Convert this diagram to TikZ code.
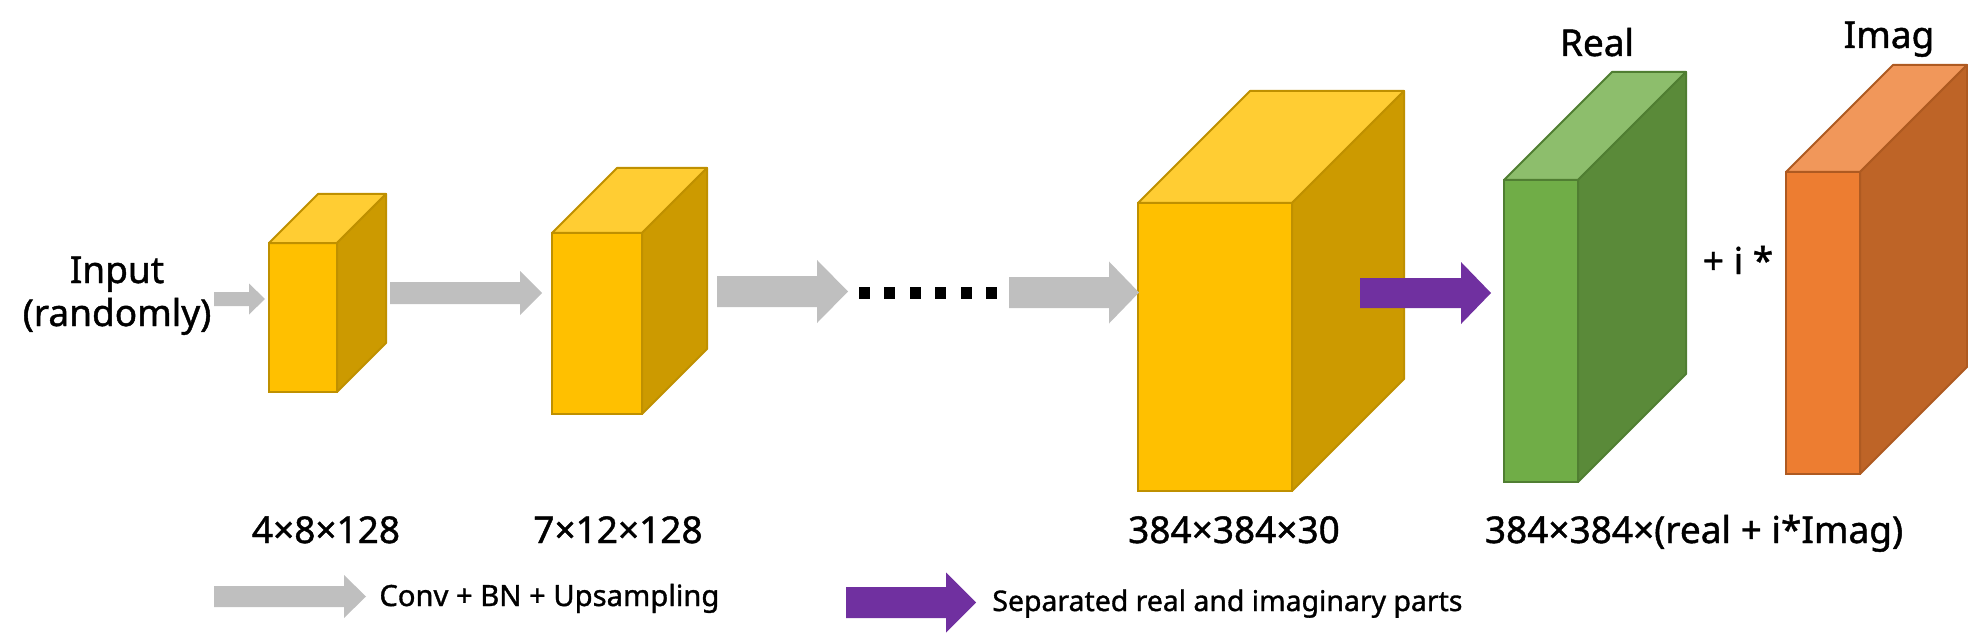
\documentclass[tikz,border=0pt]{standalone}
\usepackage{fontspec}
\setmainfont{Noto Sans}[FakeBold=1.2]
\usetikzlibrary{calc}
\definecolor{yfront}{HTML}{FFC000}
\definecolor{ytop}{HTML}{FFCD33}
\definecolor{yside}{HTML}{CC9A00}
\definecolor{yedge}{HTML}{BF9000}
\definecolor{gfront}{HTML}{70AD47}
\definecolor{gtop}{HTML}{8DBE6C}
\definecolor{gside}{HTML}{5A8A39}
\definecolor{gedge}{HTML}{507E32}
\definecolor{ofront}{HTML}{ED7D31}
\definecolor{otop}{HTML}{F1975A}
\definecolor{oside}{HTML}{BE6427}
\definecolor{oedge}{HTML}{AE5A21}
\definecolor{arrgray}{HTML}{BFBFBF}
\definecolor{arrpurple}{HTML}{7030A0}
\tikzset{
  face/.style={rectangle, inner sep=0pt, outer sep=0pt, line width=1pt},
  lab/.style={inner sep=0pt, font=\fontsize{18.5}{22}\selectfont},
  leg/.style={inner sep=0pt, font=\fontsize{14.2}{17}\selectfont},
}
% name, x, y, w, h, d, colour prefix
\newcommand\cuboid[7]{%
  \node[face, fill=#7front, draw=#7edge, minimum width=#4*0.5pt, minimum height=#5*0.5pt, anchor=north west] (#1) at (#2,#3) {};
  \filldraw[draw=#7edge, fill=#7top, line width=1pt, line join=round] (#1.north west) -- ++(#6,-#6) -- ++(#4,0) -- (#1.north east) -- cycle;
  \filldraw[draw=#7edge, fill=#7side, line width=1pt, line join=round] (#1.north east) -- ++(#6,-#6) -- ++(0,#5) -- (#1.south east) -- cycle;
}
% x1, x2, head start, y centre, shaft half, head half, colour
\newcommand\blockarrow[7]{%
  \fill[#7] (#1,#4-#5) -- (#3,#4-#5) -- (#3,#4-#6) -- (#2,#4) -- (#3,#4+#6) -- (#3,#4+#5) -- (#1,#4+#5) -- cycle;
}
\begin{document}
\begin{tikzpicture}[x=0.5pt, y=-0.5pt]
\useasboundingbox (0,0) rectangle (1968,636);

% cuboids
\cuboid{c1}{269}{243}{68}{149}{49}{y}
\cuboid{c2}{552}{233}{90}{181}{65}{y}
\cuboid{c3}{1138}{203}{154}{288}{112}{y}
\cuboid{real}{1504}{180}{74}{302}{108}{g}
\cuboid{imag}{1786}{172}{74}{302}{107}{o}

% arrows
\blockarrow{214}{265}{249}{299}{7}{15.5}{arrgray}
\blockarrow{390}{542}{520}{293}{11}{22}{arrgray}
\blockarrow{717}{848}{817}{291.5}{15.5}{31.5}{arrgray}
\blockarrow{1009}{1139}{1109}{292.5}{15.5}{31}{arrgray}
\blockarrow{1360}{1491}{1461}{293}{15}{31}{arrpurple}

% dots
\foreach \i in {0,...,5}
  \fill[black] ({859+25.4*\i},287) rectangle ++(11,12);

% texts
\node[lab, anchor=base] (in1) at (117,283) {Input};
\node[lab, anchor=base] (in2) at (117,326) {(randomly)};
\node[lab, anchor=base] (treal) at (1597,56) {Real};
\node[lab, anchor=base] (timag) at (1889,48) {Imag};
\node[lab, anchor=base] (plus) at (1738,274) {+ i *};
\node[lab, anchor=base] (l1) at (326,543) {4×8×128};
\node[lab, anchor=base] (l2) at (618,543) {7×12×128};
\node[lab, anchor=base] (l3) at (1234,543) {384×384×30};
\node[lab, anchor=base] (l4) at (1694,543) {384×384×(real + i*Imag)};

% legend
\blockarrow{214}{366}{344}{596.5}{10.5}{21.5}{arrgray}
\node[leg, anchor=base west, font=\fontsize{14.6}{17}\selectfont] (leg1) at (379,606) {Conv + BN + Upsampling};
\blockarrow{846}{976}{946}{602.5}{15.5}{30}{arrpurple}
\node[leg, anchor=base west] (leg2) at (992,611) {Separated real and imaginary parts};
\end{tikzpicture}
\end{document}
